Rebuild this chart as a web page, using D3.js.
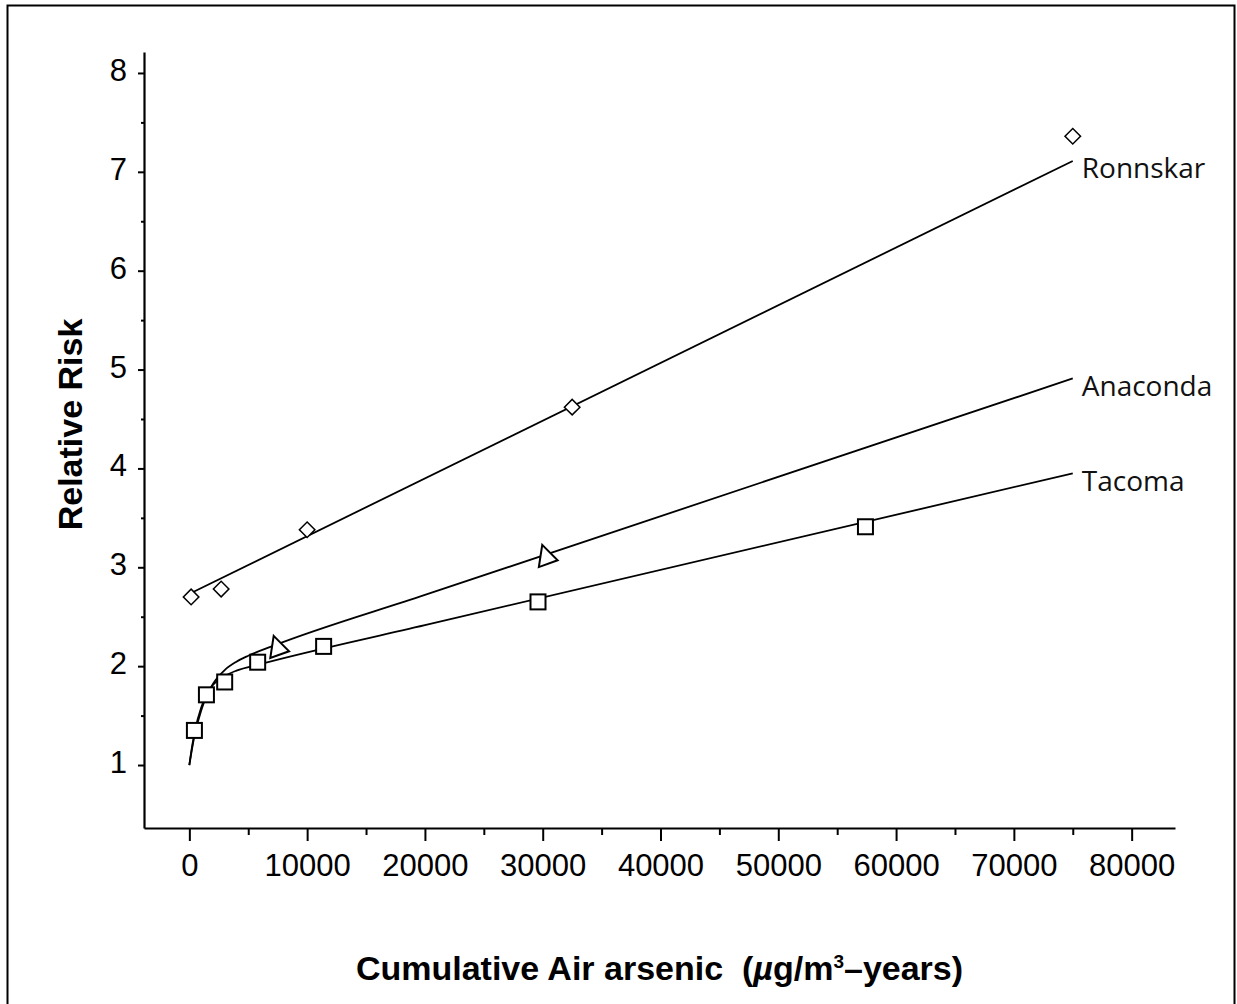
<!DOCTYPE html>
<html>
<head>
<meta charset="utf-8">
<script src="https://cdn.jsdelivr.net/npm/d3@7"></script>
<style>
  body { margin: 0; background: #fff; }
  svg text { white-space: pre; }
</style>
</head>
<body>
<div id="chart"></div>
<script>
// observed points, [arsenic, relative risk]
const ronnskarPts = [[150, 2.70], [2700, 2.78], [10000, 3.38], [32500, 4.62], [75000, 7.36]];
const anacondaPts = [[7500, 2.18], [30300, 3.10]];
const tacomaPts = [[430, 1.35], [1450, 1.71], [3000, 1.84], [5800, 2.04], [11400, 2.20], [29600, 2.65], [57400, 3.41]];

// fitted curves
const ronnskarFit = [[150, 2.74], [75000, 7.11]];
const anacondaFit = [[0, 1], [250, 1.18], [500, 1.33], [1000, 1.55], [1500, 1.71], [2000, 1.82],
  [3000, 1.96], [4000, 2.045], [5000, 2.105], [7000, 2.2], [20000, 2.72], [75000, 4.91]];
const tacomaFit = [[0, 1], [250, 1.2], [500, 1.36], [1000, 1.58], [1500, 1.72], [2000, 1.81],
  [3000, 1.90], [4000, 1.955], [6000, 2.02], [20000, 2.415], [75000, 3.95]];

const seriesNames = ["Ronnskar", "Anaconda", "Tacoma"];
const xTicks = [0, 10000, 20000, 30000, 40000, 50000, 60000, 70000, 80000];
const xMinor = [5000, 15000, 25000, 35000, 45000, 55000, 65000, 75000];
const yTicks = [1, 2, 3, 4, 5, 6, 7, 8];
const yMinor = [1.5, 2.5, 3.5, 4.5, 5.5, 6.5, 7.5];

const width = 1237, height = 1004;

const svg = d3.select('#chart').append('svg')
  .attr('width', width)
  .attr('height', height);

// outer frame
svg.append('rect')
  .attr('x', 7.5).attr('y', 5.5)
  .attr('width', 1227).attr('height', 1010)
  .attr('fill', 'none')
  .attr('stroke', '#000')
  .attr('stroke-width', 2);

const x = d3.scaleLinear().domain([-3850, 83680]).range([144, 1175]);
const y = d3.scaleLinear().domain([0.363, 8.212]).range([828, 52]);

const tickFont = '"Liberation Sans", Arial, sans-serif';

// x axis
const gx = svg.append('g').attr('transform', 'translate(0,828)');
gx.call(d3.axisBottom(x).tickValues(xTicks).tickSize(13).tickSizeOuter(0)
  .tickPadding(13).tickFormat(d3.format('d')));
gx.append('g').call(d3.axisBottom(x).tickValues(xMinor).tickSize(7).tickFormat(''))
  .select('.domain').remove();

// y axis
const gy = svg.append('g').attr('transform', 'translate(144,0)');
gy.call(d3.axisLeft(y).tickValues(yTicks).tickSize(6).tickSizeOuter(0).tickPadding(11));
gy.append('g').call(d3.axisLeft(y).tickValues(yMinor).tickSize(3).tickFormat(''))
  .select('.domain').remove();

svg.selectAll('.domain').attr('stroke-width', 2.2);
svg.selectAll('.tick line').attr('stroke-width', 2);
svg.selectAll('.tick text')
  .attr('font-family', tickFont)
  .attr('font-size', 31)
  .attr('fill', '#000');
gy.selectAll('.tick text').attr('dy', '0.24em');

// fit lines
const line = d3.line()
  .x(d => x(d[0]))
  .y(d => y(d[1]))
  .curve(d3.curveMonotoneX);

const fits = [ronnskarFit, anacondaFit, tacomaFit];
svg.append('g').selectAll('path')
  .data(fits)
  .join('path')
  .attr('d', line)
  .attr('fill', 'none')
  .attr('stroke', '#000')
  .attr('stroke-width', 1.8);

// markers
const diamond = d3.symbol(d3.symbolSquare, 121);
svg.append('g').selectAll('path')
  .data(ronnskarPts)
  .join('path')
  .attr('d', diamond)
  .attr('transform', d => `translate(${x(d[0])},${y(d[1])}) rotate(45)`)
  .attr('fill', '#fff')
  .attr('stroke', '#000')
  .attr('stroke-width', 1.5);

const triPath = 'M-4,-12.5L11.4,2.9L-7.4,9.7Z';
svg.append('g').selectAll('path')
  .data(anacondaPts)
  .join('path')
  .attr('d', triPath)
  .attr('transform', d => `translate(${x(d[0])},${y(d[1])})`)
  .attr('fill', '#fff')
  .attr('stroke', '#000')
  .attr('stroke-width', 2)
  .attr('stroke-linejoin', 'miter');

svg.append('g').selectAll('rect')
  .data(tacomaPts)
  .join('rect')
  .attr('x', d => x(d[0]) - 7.5)
  .attr('y', d => y(d[1]) - 7.5)
  .attr('width', 15)
  .attr('height', 15)
  .attr('fill', '#fff')
  .attr('stroke', '#000')
  .attr('stroke-width', 2);

// series labels at the line ends
svg.append('g').selectAll('text')
  .data(fits.map((f, i) => ({ name: seriesNames[i], end: f[f.length - 1] })))
  .join('text')
  .attr('x', d => x(d.end[0]) + 9)
  .attr('y', d => y(d.end[1]) + 17.5)
  .attr('font-family', '"Open Sans", "DejaVu Sans", sans-serif')
  .attr('font-size', 28)
  .attr('fill', '#111')
  .text(d => d.name);

// axis titles
svg.append('text')
  .attr('transform', 'translate(82,424.5) rotate(-90)')
  .attr('text-anchor', 'middle')
  .attr('font-family', tickFont)
  .attr('font-weight', 'bold')
  .attr('font-size', 34)
  .text('Relative Risk');

const xt = svg.append('text')
  .attr('x', 659.5)
  .attr('y', 980)
  .attr('text-anchor', 'middle')
  .attr('font-family', tickFont)
  .attr('font-weight', 'bold')
  .attr('font-size', 34);
xt.append('tspan').text('Cumulative Air arsenic  (');
xt.append('tspan').attr('font-style', 'italic').text('\u00b5');
xt.append('tspan').text('g/m');
xt.append('tspan').attr('font-size', 19).attr('dy', -12).text('3');
xt.append('tspan').attr('dy', 12).text('\u2013years)');
</script>
</body>
</html>
